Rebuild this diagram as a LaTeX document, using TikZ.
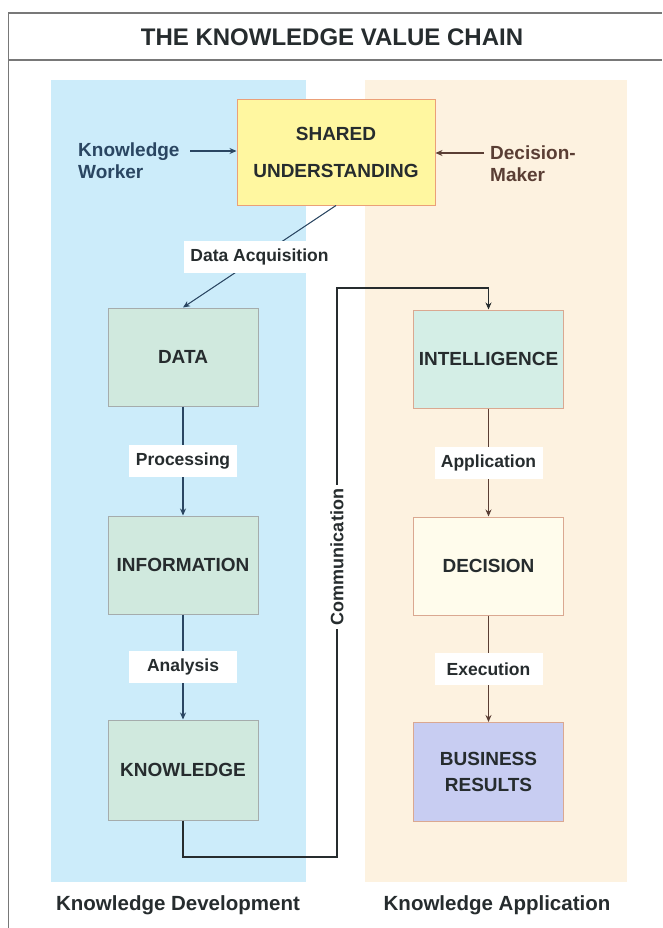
\documentclass[tikz,border=0pt]{standalone}
\usepackage{fontspec}
\setmainfont{Liberation Sans}
\usetikzlibrary{arrows.meta}
\definecolor{devpanel}{RGB}{204,236,250}
\definecolor{apppanel}{RGB}{253,242,224}
\definecolor{sufill}{RGB}{255,247,160}
\definecolor{suline}{RGB}{235,160,120}
\definecolor{stagefill}{RGB}{208,233,222}
\definecolor{stageline}{RGB}{165,172,172}
\definecolor{intfill}{RGB}{212,238,230}
\definecolor{decfill}{RGB}{255,252,236}
\definecolor{appline}{RGB}{218,168,145}
\definecolor{brfill}{RGB}{200,205,242}
\definecolor{inktext}{RGB}{38,44,46}
\definecolor{bluearrow}{RGB}{42,70,98}
\definecolor{brownarrow}{RGB}{90,62,52}
\definecolor{frameline}{RGB}{120,120,120}
\tikzset{
  stage/.style={draw=stageline, line width=1pt, fill=stagefill, minimum width=150pt,
    minimum height=98pt, align=center, font=\fontsize{19}{26}\selectfont\bfseries, text=inktext},
  appstage/.style={stage, draw=appline},
  tag/.style={fill=white, inner xsep=6pt, inner ysep=6pt, minimum width=108pt, minimum height=32pt,
    font=\fontsize{17.5}{20}\selectfont\bfseries, text=inktext},
  devarrow/.style={draw=bluearrow, line width=1.1pt, -{Stealth[length=7pt,width=6pt]}},
  apparrow/.style={draw=brownarrow, line width=1.1pt, -{Stealth[length=7pt,width=6pt]}},
  actor/.style={align=left, font=\fontsize{19}{22}\selectfont\bfseries, inner sep=0pt},
  footer/.style={font=\fontsize{20.5}{24}\selectfont\bfseries, text=inktext, inner sep=0pt}
}
\begin{document}
\begin{tikzpicture}[x=1pt,y=-1pt]
\useasboundingbox (0,0) rectangle (662,928);
\fill[white] (0,0) rectangle (662,928);
% frame and title band
\draw[frameline, line width=1.5pt] (8,13) -- (662,13);
\draw[frameline, line width=1.5pt] (8,60) -- (662,60);
\draw[frameline, line width=1pt] (8,13) -- (8,928);
\node[font=\fontsize{24}{28}\selectfont\bfseries, text=inktext] (title) at (332,37) {THE KNOWLEDGE VALUE CHAIN};
% the two phases
\fill[devpanel] (51,80) rectangle (306,882);
\fill[apppanel] (365,80) rectangle (627,882);
% stages
\node[stage, draw=suline, fill=sufill, minimum width=198pt, minimum height=105pt,
  font=\fontsize{19}{37}\selectfont\bfseries] (su) at (336,152.5) {SHARED\\UNDERSTANDING};
\node[stage] (data) at (183,357) {DATA};
\node[stage] (info) at (183,565) {INFORMATION};
\node[stage, minimum height=100pt] (know) at (183,770) {KNOWLEDGE};
\node[appstage, fill=intfill] (intel) at (488.5,359) {INTELLIGENCE};
\node[appstage, fill=decfill] (dec) at (488.5,566) {DECISION};
\node[appstage, fill=brfill, minimum height=99pt] (br) at (488.5,772) {BUSINESS\\RESULTS};
% actors
\node[actor, text=bluearrow, anchor=west] (worker) at (78,161) {Knowledge\\Worker};
\node[actor, text=brownarrow, anchor=west] (maker) at (490,164) {Decision-\\Maker};
\coordinate (workerarrow) at (190,151);
\coordinate (makerarrow) at (484,153);
\draw[devarrow] (workerarrow) -- (workerarrow -| su.west);
\draw[apparrow] (makerarrow) -- (makerarrow -| su.east);
% knowledge development flow
\draw[devarrow] (su.south) -- node[tag] (acq) {Data Acquisition} (data.north);
\draw[devarrow] (data) -- node[tag] (proc) {Processing} (info);
\draw[devarrow] (info) -- node[tag] (anal) {Analysis} (know);
% communication link between the phases
\coordinate (commlow) at (337,857);
\coordinate (commhigh) at (337,288);
\draw[draw=inktext, line width=1.1pt, -{Stealth[length=7pt,width=6pt]}]
  (know.south) |- (commlow) -- (commhigh) -| (intel.north);
\node[fill=white, rotate=90, inner xsep=4pt, inner ysep=2pt, font=\fontsize{18}{20}\selectfont\bfseries, text=inktext] (comm) at (337,557) {Communication};
% knowledge application flow
\draw[apparrow] (intel) -- node[tag] (appl) {Application} (dec);
\draw[apparrow] (dec) -- node[tag] (exec) {Execution} (br);
% phase names
\node[footer] (devname) at (178,905) {Knowledge Development};
\node[footer] (appname) at (497,905) {Knowledge Application};
\end{tikzpicture}
\end{document}
